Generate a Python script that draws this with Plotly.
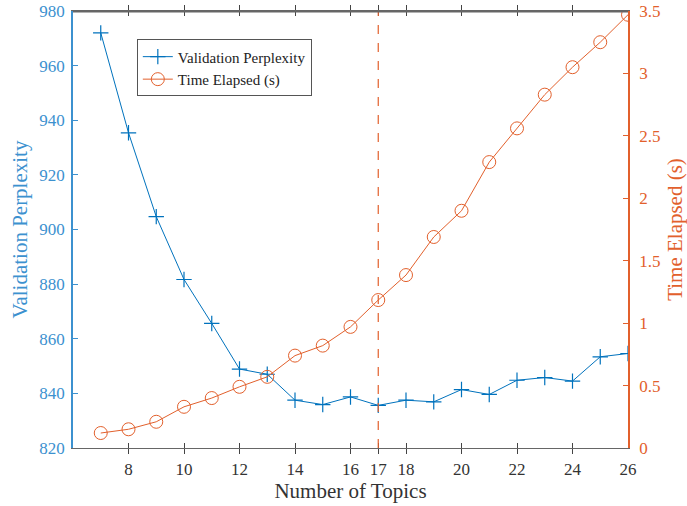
import plotly.graph_objects as go

topics = list(range(7, 27))
perplexity = [972, 935.4, 904.7, 881.7, 865.6, 848.9, 847.0, 837.5, 835.9, 838.7,
              835.6, 837.5, 836.9, 841.4, 839.6, 844.8, 845.8, 844.5, 853.4, 854.6]
time_elapsed = [0.12, 0.15, 0.21, 0.33, 0.40, 0.49, 0.57, 0.74, 0.82, 0.97,
                1.185, 1.385, 1.69, 1.90, 2.29, 2.56, 2.83, 3.05, 3.25, 3.47]
x_ticks = [8, 10, 12, 14, 16, 17, 18, 20, 22, 24, 26]
left_ticks = [820, 840, 860, 880, 900, 920, 940, 960, 980]
right_ticks = [0, 0.5, 1, 1.5, 2, 2.5, 3, 3.5]
optimal_topics = 17

BLUE = "#0072BD"
BLUE_AX = "#3C91CF"
ORANGE = "#E2602C"
FONT = "Liberation Serif"

fig = go.Figure()
fig.add_trace(go.Scatter(
    x=topics, y=perplexity, name="Validation Perplexity", mode="lines+markers",
    line=dict(color=BLUE, width=1),
    marker=dict(symbol="cross-thin-open", size=11, line=dict(color=BLUE, width=1.2)),
    yaxis="y"))
fig.add_trace(go.Scatter(
    x=topics, y=time_elapsed, name="Time Elapsed (s)", mode="lines+markers",
    line=dict(color=ORANGE, width=1),
    marker=dict(symbol="circle-open", size=13, line=dict(color=ORANGE, width=1)),
    yaxis="y2"))

fig.add_shape(type="line", x0=optimal_topics, x1=optimal_topics, y0=0, y1=1,
              xref="x", yref="paper", line=dict(color=ORANGE, width=1.2, dash="dash"))
# top frame line (box border)
fig.add_shape(type="line", x0=0, x1=1, y0=0.998, y1=0.998, xref="paper", yref="paper",
              line=dict(color="#666", width=1.5), layer="above")

fig.update_layout(
    width=687, height=506,
    margin=dict(l=73, r=59, t=11, b=58, autoexpand=False),
    paper_bgcolor="white", plot_bgcolor="white",
    font=dict(family=FONT, size=14, color="#333"),
    showlegend=True,
    legend=dict(x=0.115, y=0.935, xanchor="left", yanchor="top",
                bgcolor="white", bordercolor="#555", borderwidth=1,
                font=dict(family=FONT, size=15, color="#222"),
                tracegroupgap=0),
    xaxis=dict(range=[6, 26], tickvals=x_ticks, ticks="inside", ticklen=5,
               tickcolor="#444", showline=True, linecolor="#666", linewidth=1,
               mirror="allticks", showgrid=False, zeroline=False, automargin=False,
               ticklabelstandoff=6,
               tickfont=dict(family=FONT, size=17, color="#333"),
               title=dict(text="Number of Topics", font=dict(family=FONT, size=21, color="#333"),
                          standoff=4)),
    yaxis=dict(range=[820, 980], tickvals=left_ticks, ticks="inside", ticklen=5,
               tickcolor=BLUE_AX, showline=True, linecolor=BLUE_AX, linewidth=1.5,
               showgrid=False, zeroline=False, automargin=False,
               ticklabelstandoff=3,
               tickfont=dict(family=FONT, size=17, color=BLUE_AX),
               title=dict(text="Validation Perplexity",
                          font=dict(family=FONT, size=21, color=BLUE_AX), standoff=6)),
    yaxis2=dict(range=[0, 3.5], tickvals=right_ticks, ticks="inside", ticklen=5,
                tickcolor=ORANGE, showline=True, linecolor=ORANGE, linewidth=1.5,
                overlaying="y", side="right", showgrid=False, zeroline=False,
                automargin=False, ticklabelstandoff=6,
                tickfont=dict(family=FONT, size=17, color=ORANGE),
                title=dict(text="Time Elapsed (s)",
                           font=dict(family=FONT, size=21, color=ORANGE), standoff=8)),
)

fig.write_html("out.html")
